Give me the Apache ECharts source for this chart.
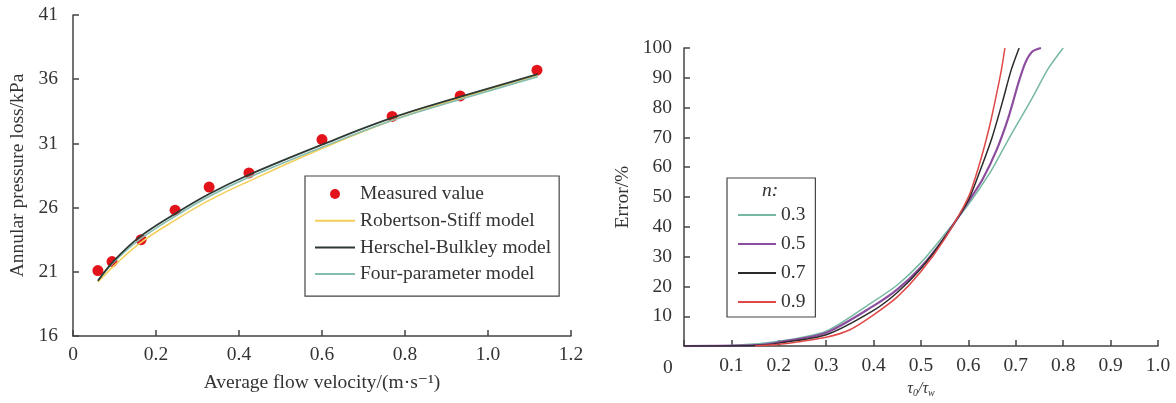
<!DOCTYPE html>
<html>
<head>
<meta charset="utf-8">
<script src="https://cdn.jsdelivr.net/npm/echarts@6/dist/echarts.min.js"></script>
<style>
  html, body { margin: 0; padding: 0; background: #fff; }
  #chart { width: 1176px; height: 403px; }
</style>
</head>
<body>
<div id="chart"></div>
<script>
// Left panel: annular pressure loss vs. average flow velocity
const measuredValue = [
  [0.060, 21.1], [0.094, 21.8], [0.164, 23.5], [0.246, 25.8], [0.328, 27.6],
  [0.424, 28.7], [0.600, 31.3], [0.769, 33.1], [0.933, 34.7], [1.118, 36.7]
];
const robertsonStiff = [
  [0.060, 20.2], [0.100, 21.5], [0.160, 23.2], [0.250, 25.1], [0.330, 26.6],
  [0.420, 28.0], [0.600, 30.6], [0.770, 32.8], [0.930, 34.5], [1.120, 36.3]
];
const herschelBulkley = [
  [0.060, 20.3], [0.100, 21.9], [0.160, 23.7], [0.250, 25.6], [0.330, 27.1],
  [0.420, 28.5], [0.600, 30.9], [0.770, 33.0], [0.930, 34.6], [1.120, 36.4]
];
const fourParameter = [
  [0.060, 20.3], [0.100, 21.8], [0.160, 23.5], [0.250, 25.4], [0.330, 26.9],
  [0.420, 28.3], [0.600, 30.7], [0.770, 32.8], [0.930, 34.4], [1.120, 36.2]
];
const pressureTicks = [16, 21, 26, 31, 36, 41];

// Right panel: error vs. tau0/tauw for several flow indices n
const nLabels = ['0.3', '0.5', '0.7', '0.9'];
const error03 = [
  [0.00, 0], [0.10, 0.2], [0.20, 1.6], [0.30, 5.0], [0.40, 15.0], [0.45, 20.5],
  [0.50, 28.0], [0.55, 37.5], [0.60, 47.5], [0.645, 58.0], [0.673, 66.0],
  [0.694, 72.0], [0.734, 83.0], [0.768, 93.0], [0.80, 100]
];
const error05 = [
  [0.00, 0], [0.15, 0.3], [0.20, 1.3], [0.30, 4.5], [0.40, 13.5], [0.45, 19.0],
  [0.50, 26.5], [0.55, 36.5], [0.60, 48.5], [0.63, 56.0], [0.66, 66.0],
  [0.685, 77.0], [0.705, 88.0], [0.72, 95.0], [0.735, 98.8], [0.753, 100]
];
const error07 = [
  [0.00, 0], [0.15, 0.2], [0.20, 1.0], [0.30, 3.8], [0.40, 12.0], [0.45, 18.0],
  [0.50, 26.0], [0.55, 36.5], [0.60, 49.0], [0.625, 59.0], [0.65, 70.0],
  [0.672, 82.0], [0.69, 92.5], [0.707, 100]
];
const error09 = [
  [0.15, 0], [0.20, 0.6], [0.30, 3.0], [0.35, 5.5], [0.40, 10.5], [0.45, 16.5],
  [0.50, 25.0], [0.55, 36.0], [0.60, 50.0], [0.625, 62.0], [0.645, 74.0],
  [0.66, 85.0], [0.67, 93.0], [0.677, 100]
];

const FONT = '"Liberation Serif", "DejaVu Serif", serif';
const TEXT = '#333';
const FS = 19.5;

function axisCommon() {
  return {
    axisLine: { lineStyle: { color: '#444', width: 1.5 } },
    axisTick: { inside: true, length: 6, lineStyle: { color: '#444', width: 1.5 } },
    axisLabel: { color: TEXT, fontFamily: FONT, fontSize: FS },
    splitLine: { show: false },
    nameTextStyle: { color: TEXT, fontFamily: FONT, fontSize: FS }
  };
}

// legend entries for line series: show the stroke only, hide the marker
const hideMarker = { opacity: 0 };

function curve(name, data, color, width, axis, smooth) {
  return {
    name, type: 'line', xAxisIndex: axis, yAxisIndex: axis,
    data, smooth, symbol: 'none',
    lineStyle: { color, width }, itemStyle: { color }
  };
}

const chart = echarts.init(document.getElementById('chart'), null, { renderer: 'canvas' });

const option = {
  backgroundColor: '#fff',
  animation: false,
  textStyle: { fontFamily: FONT },
  grid: [
    { left: 73, top: 15, width: 498, height: 321, containLabel: false },
    { left: 684, top: 48, width: 474, height: 304, containLabel: false }
  ],
  xAxis: [
    Object.assign(axisCommon(), {
      gridIndex: 0, type: 'value', min: 0, max: 1.2, interval: 0.2,
      name: 'Average flow velocity/(m·s⁻¹)', nameLocation: 'middle', nameGap: 37,
      axisLabel: Object.assign(axisCommon().axisLabel, {
        margin: 9,
        formatter: v => (v === 0 ? '0' : v.toFixed(1))
      })
    }),
    Object.assign(axisCommon(), {
      gridIndex: 1, type: 'value', min: 0, max: 1, interval: 0.1,
      name: '{t|τ}{s|0}{t|/τ}{s|w}', nameLocation: 'middle', nameGap: 32,
      nameTextStyle: {
        rich: {
          t: { fontFamily: FONT, fontSize: 16, fontStyle: 'italic', color: TEXT },
          s: { fontFamily: FONT, fontSize: 10, fontStyle: 'italic', color: TEXT, padding: [8, 0, 0, 0] }
        }
      },
      axisLabel: Object.assign(axisCommon().axisLabel, {
        margin: 10,
        formatter: v => (v === 0 ? '' : v.toFixed(1))
      })
    })
  ],
  yAxis: [
    Object.assign(axisCommon(), {
      gridIndex: 0, type: 'value', min: 16, max: 41,
      name: 'Annular pressure loss/kPa', nameLocation: 'middle', nameGap: 45, nameRotate: 90,
      axisLabel: Object.assign(axisCommon().axisLabel, { margin: 15, customValues: pressureTicks }),
      axisTick: Object.assign(axisCommon().axisTick, { customValues: pressureTicks })
    }),
    Object.assign(axisCommon(), {
      gridIndex: 1, type: 'value', min: 0, max: 100, interval: 10,
      name: 'Error/%', nameLocation: 'middle', nameGap: 51, nameRotate: 90,
      axisLabel: Object.assign(axisCommon().axisLabel, {
        margin: 12,
        formatter: v => (v === 0 ? '' : String(v))
      })
    })
  ],
  legend: [
    {
      orient: 'vertical', left: 305, top: 176,
      padding: [8, 8, 12, 9], itemGap: 6.7, itemWidth: 40, itemHeight: 10,
      borderColor: '#444', borderWidth: 1.2,
      textStyle: { color: TEXT, fontFamily: FONT, fontSize: FS },
      data: [
        { name: 'Measured value' },
        { name: 'Robertson-Stiff model', itemStyle: hideMarker },
        { name: 'Herschel-Bulkley model', itemStyle: hideMarker },
        { name: 'Four-parameter model', itemStyle: hideMarker }
      ]
    },
    {
      orient: 'vertical', left: 727, top: 178,
      padding: [27, 10, 5, 10], itemGap: 9, itemWidth: 38, itemHeight: 10,
      borderColor: '#444', borderWidth: 1.2,
      textStyle: { color: TEXT, fontFamily: FONT, fontSize: FS },
      data: nLabels.map(n => ({ name: n, itemStyle: hideMarker }))
    }
  ],
  graphic: [
    {
      type: 'text', left: 762, top: 181,
      style: { text: 'n:', font: 'italic ' + FS + 'px ' + FONT, fill: TEXT }
    },
    {
      type: 'text', left: 663, top: 358,
      style: { text: '0', font: FS + 'px ' + FONT, fill: TEXT }
    }
  ],
  series: [
    curve('Robertson-Stiff model', robertsonStiff, '#f4cf5a', 1.6, 0, 0.4),
    curve('Four-parameter model', fourParameter, '#86bdb0', 1.6, 0, 0.4),
    curve('Herschel-Bulkley model', herschelBulkley, '#2c3a33', 1.8, 0, 0.4),
    {
      name: 'Measured value', type: 'scatter', xAxisIndex: 0, yAxisIndex: 0,
      data: measuredValue, symbol: 'circle', symbolSize: 11,
      itemStyle: { color: '#e3131b', opacity: 1 }
    },
    curve('0.3', error03, '#76b9a2', 1.5, 1, 0.25),
    curve('0.5', error05, '#8c4d9e', 2.2, 1, 0.25),
    curve('0.7', error07, '#2b2b2b', 1.5, 1, 0.25),
    curve('0.9', error09, '#e04848', 1.5, 1, 0.25)
  ]
};

chart.setOption(option);
</script>
</body>
</html>
